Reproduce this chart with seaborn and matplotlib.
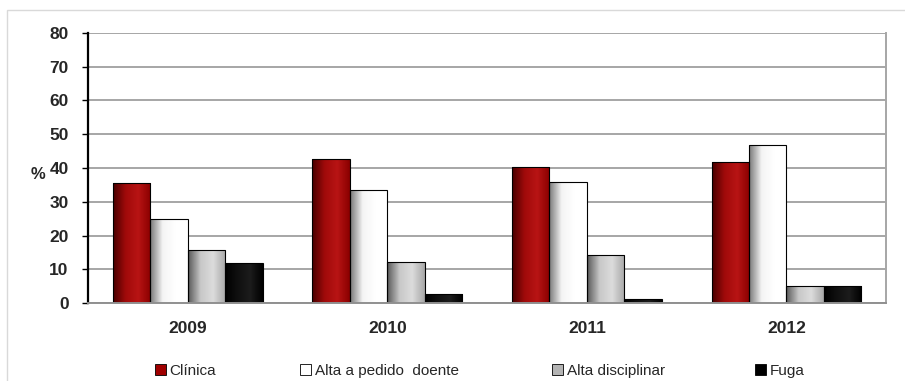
import matplotlib
matplotlib.use("Agg")
import matplotlib.pyplot as plt
import matplotlib.colors as mcolors
from matplotlib.patches import Patch, Rectangle
import seaborn as sns
import numpy as np
import pandas as pd

years = ["2009", "2010", "2011", "2012"]
series = ["Clínica", "Alta a pedido  doente", "Alta disciplinar", "Fuga"]
clinica = [35.7, 42.7, 40.3, 41.8]
alta_pedido = [25.0, 33.4, 35.9, 46.8]
alta_disciplinar = [15.6, 12.1, 14.2, 5.0]
fuga = [12.0, 2.8, 1.3, 5.0]
y_ticks = [0, 10, 20, 30, 40, 50, 60, 70, 80]

solid = ["#a00000", "#ffffff", "#b4b4b4", "#000000"]
# left edge -> highlight -> right edge, for the cylinder-like shading
shades = [
    ["#4a0000", "#a00a0a", "#b81414", "#8a0000"],
    ["#7a7a7a", "#f4f4f4", "#ffffff", "#ffffff"],
    ["#5a5a5a", "#c8c8c8", "#dcdcdc", "#a8a8a8"],
    ["#000000", "#101010", "#1c1c1c", "#000000"],
]

df = pd.DataFrame({
    "year": years * 4,
    "serie": np.repeat(series, 4),
    "value": clinica + alta_pedido + alta_disciplinar + fuga,
})

sns.set_style("white")
plt.rcParams["font.family"] = ["Liberation Sans", "DejaVu Sans"]

fig = plt.figure(figsize=(9.05, 3.81), dpi=100)
ax = fig.add_axes([0.0972, 0.2047, 0.882, 0.7087])

sns.barplot(data=df, x="year", y="value", hue="serie", order=years,
            hue_order=series, palette=solid, width=0.75, ax=ax,
            edgecolor="black", linewidth=0.8, legend=False, saturation=1)

bars = [p for p in ax.patches if isinstance(p, Rectangle)]
for i, p in enumerate(bars):
    k = i // len(years)
    cmap = mcolors.LinearSegmentedColormap.from_list("g%d" % k, shades[k])
    x0, w, h = p.get_x(), p.get_width(), p.get_height()
    grad = np.linspace(0, 1, 64).reshape(1, -1)
    im = ax.imshow(grad, extent=[x0, x0 + w, 0, h], aspect="auto",
                   cmap=cmap, zorder=p.get_zorder(), interpolation="bilinear")
    im.set_clip_path(p)
    p.set_facecolor("none")
    p.set_zorder(p.get_zorder() + 0.1)

ax.set_xlim(-0.5, 3.5)
ax.set_ylim(0, 80)
ax.set_yticks(y_ticks)
ax.yaxis.grid(True, color="#a6a6a6", linewidth=1.4)
ax.set_axisbelow(True)

ax.set_xlabel("")
ax.set_ylabel("%", rotation=0, fontsize=12, fontweight="bold")
ax.yaxis.set_label_coords(-0.062, 0.45)

for lab in ax.get_xticklabels() + ax.get_yticklabels():
    lab.set_fontweight("bold")
    lab.set_fontsize(12.5)

ax.set_xticks([-0.5, 0.5, 1.5, 2.5, 3.5], minor=True)
ax.tick_params(axis="x", which="major", length=0, pad=13)
ax.tick_params(axis="x", which="minor", length=5, width=1, color="black",
               direction="out")
ax.tick_params(axis="y", length=4, width=1, color="black", direction="out",
               left=True, pad=10)

ax.spines["left"].set_color("black")
ax.spines["left"].set_linewidth(1.6)
ax.spines["bottom"].set_color("#909090")
ax.spines["bottom"].set_linewidth(1.4)
ax.spines["right"].set_color("#a6a6a6")
ax.spines["right"].set_linewidth(1.4)
ax.spines["top"].set_visible(False)

# legend entries laid out individually, as in the original sheet
legend_x = [155, 300, 552, 755]
for lab, col, lx in zip(series, solid, legend_x):
    fig.legend([Patch(facecolor=col, edgecolor="black", linewidth=0.6)], [lab],
               loc="center left", bbox_to_anchor=(lx / 905, 10 / 381),
               frameon=False, fontsize=11, handlelength=0.75,
               handleheight=0.75, handletextpad=0.2, borderpad=0,
               borderaxespad=0)

fig.patches.append(Rectangle((7 / 905, -0.05), 1.0, 0.05 + 371 / 381,
                             transform=fig.transFigure, fill=False,
                             edgecolor="#d9d9d9", linewidth=1))

fig.savefig("out.png", dpi=100)
